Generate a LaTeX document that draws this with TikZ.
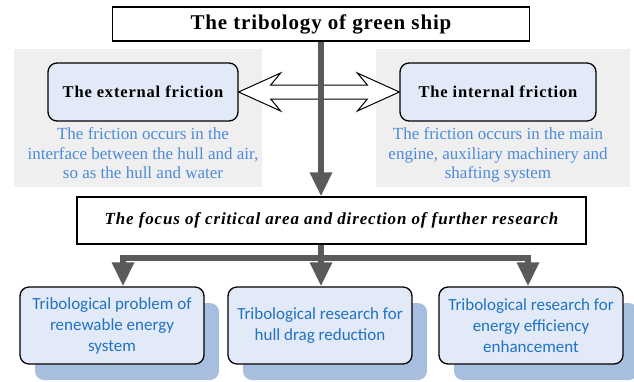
\documentclass[tikz,border=0pt]{standalone}
\usepackage{fontspec}
\setmainfont{Liberation Serif}
\newfontfamily\spacedfont[LetterSpace=4]{Liberation Serif}
\newfontfamily\widefont[LetterSpace=5]{Liberation Serif}
\newfontfamily\boxfont{Carlito}
\usetikzlibrary{arrows.meta,positioning,shadows}
\definecolor{panelgray}{HTML}{EFEFEF}
\definecolor{boxfill}{HTML}{E3EAF7}
\definecolor{shadowblue}{HTML}{A8BEDF}
\definecolor{noteblue}{HTML}{4C8BDB}
\definecolor{boxblue}{HTML}{1F72C4}
\definecolor{arrowgray}{HTML}{5A5A5A}
\tikzset{
	titlebox/.style={
		draw, line width=1.2pt, fill=white,
		minimum width=417pt, minimum height=34pt,
		font=\spacedfont\fontsize{21}{24}\selectfont\bfseries
	},
	focusbox/.style={
		draw, line width=1.2pt, fill=white,
		minimum width=509pt, minimum height=47pt,
		font=\widefont\fontsize{17}{20}\selectfont\bfseries\itshape
	},
	panel/.style={fill=panelgray, inner sep=0pt},
	friction/.style={
		draw, line width=1.3pt, rounded corners=9pt, fill=boxfill,
		minimum height=58pt,
		font=\widefont\fontsize{16.5}{19}\selectfont\bfseries
	},
	note/.style={
		text=noteblue, align=center, inner sep=1pt,
		font=\fontsize{17}{19.5}\selectfont
	},
	research/.style={
		draw, line width=1.3pt, rounded corners=9pt, fill=boxfill,
		minimum width=184pt, minimum height=77pt,
		align=center, text=boxblue,
		font=\boxfont\fontsize{17}{21}\selectfont,
		drop shadow={shadow xshift=15pt, shadow yshift=-16pt,
			fill=shadowblue, opacity=1}
	},
	flow/.style={
		draw=arrowgray, line width=6pt,
		-{Triangle[width=21pt,length=24pt]}
	},
	hollow/.style={draw, fill=white, line width=1pt, line join=miter}
}

\begin{document}
\begin{tikzpicture}[x=1pt, y=-1pt]
	\useasboundingbox (0,0) rectangle (634,381);

	% grey panels behind the two friction kinds
	\node[panel, minimum width=248pt, minimum height=138pt] (leftpanel) at (138,118) {};
	\node[panel, minimum width=254pt, minimum height=138pt] (rightpanel) at (503,118) {};

	\node[titlebox] (title) at (321,24) {The tribology of green ship};

	\node[friction, minimum width=190pt] (ext) at (143,92) {The external friction};
	\node[friction, minimum width=196pt] (int) at (498,92) {The internal friction};

	\node[note, below=5pt of ext] (extnote) {The friction occurs in the\\
		interface between the hull and air,\\
		so as the hull and water};
	\node[note, below=5pt of int] (intnote) {The friction occurs in the main\\
		engine, auxiliary machinery and\\
		shafting system};

	% double arrow between the two boxes
	\draw[hollow] (ext.east) -- ([shift={(42,-19)}]ext.east) -- ([shift={(32,-7)}]ext.east)
		-- ([shift={(-32,-7)}]int.west) -- ([shift={(-42,-19)}]int.west) -- (int.west)
		-- ([shift={(-42,19)}]int.west) -- ([shift={(-32,7)}]int.west)
		-- ([shift={(32,7)}]ext.east) -- ([shift={(42,19)}]ext.east) -- cycle;

	\node[focusbox] (focus) at (331.5,220.5) {The focus of critical area and direction of further research};

	\draw[flow] (title.south) -- (title.south |- focus.north);

	\node[research] (renew) at (112,325.5) {Tribological problem of\\renewable energy\\system};
	\node[research] (drag) at (320,325.5) {Tribological research for\\hull drag reduction};
	\node[research] (effic) at (531,325.5) {Tribological research for\\energy efficiency\\enhancement};

	% branching bar
	\coordinate (barl) at (123,258);
	\coordinate (barm) at (321,258);
	\coordinate (barr) at (528,258);
	\draw[draw=arrowgray, line width=6pt] (focus.south -| barm) -- (barm);
	\draw[flow] (barm) -| (renew.north -| barl);
	\draw[flow] (barm) -| (effic.north -| barr);
	\draw[flow] (barm) -- (drag.north -| barm);
\end{tikzpicture}
\end{document}
